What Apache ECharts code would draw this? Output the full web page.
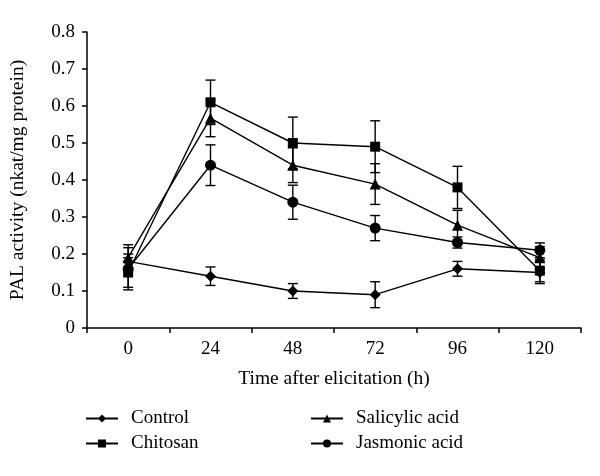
<!DOCTYPE html>
<html>
<head>
<meta charset="utf-8">
<script src="https://cdn.jsdelivr.net/npm/echarts@6/dist/echarts.min.js"></script>
<style>html,body{margin:0;padding:0;background:#fff;}#c{width:600px;height:476px;}</style>
</head>
<body>
<div id="c"></div>
<script>
const categories = ['0', '24', '48', '72', '96', '120'];
const yTicks = [0, 0.1, 0.2, 0.3, 0.4, 0.5, 0.6, 0.7, 0.8];
const controlValues = [0.18, 0.14, 0.10, 0.09, 0.16, 0.15];
const controlErrors = [0.02, 0.025, 0.02, 0.035, 0.02, 0.03];
const chitosanValues = [0.15, 0.61, 0.50, 0.49, 0.38, 0.155];
const chitosanErrors = [0.04, 0.06, 0.07, 0.07, 0.057, 0.03];
const salicylicValues = [0.19, 0.567, 0.44, 0.389, 0.278, 0.19];
const salicylicErrors = [0.035, 0.05, 0.047, 0.055, 0.04, 0.03];
const jasmonicValues = [0.16, 0.44, 0.34, 0.27, 0.231, 0.21];
const jasmonicErrors = [0.057, 0.055, 0.046, 0.034, 0.015, 0.02];

const FONT = 'Liberation Serif';
const chart = echarts.init(document.getElementById('c'), null, {renderer: 'canvas'});

function lineSeries(name, values, symbol, size) {
  return {
    name: name, type: 'line', data: values,
    symbol: symbol, symbolSize: size, showSymbol: true,
    lineStyle: {color: '#000', width: 1.4},
    itemStyle: {color: '#000'},
    z: 3, animation: false
  };
}
function errSeries(name, values, errors) {
  return {
    name: name + ' err', type: 'custom',
    data: values.map((v, i) => [i, v, errors[i]]),
    renderItem: function (params, api) {
      const x = api.value(0), y = api.value(1), e = api.value(2);
      const top = api.coord([x, y + e]);
      const bot = api.coord([x, y - e]);
      const w = 5;
      const st = {stroke: '#000', lineWidth: 1.4};
      return {type: 'group', children: [
        {type: 'line', shape: {x1: top[0], y1: top[1], x2: bot[0], y2: bot[1]}, style: st},
        {type: 'line', shape: {x1: top[0] - w, y1: top[1], x2: top[0] + w, y2: top[1]}, style: st},
        {type: 'line', shape: {x1: bot[0] - w, y1: bot[1], x2: bot[0] + w, y2: bot[1]}, style: st}
      ]};
    },
    z: 2, animation: false, silent: true
  };
}

const legendText = {fontFamily: FONT, fontSize: 19, color: '#000', padding: [0, 0, 0, 8]};
const option = {
  backgroundColor: '#fff',
  animation: false,
  grid: {left: 86, right: 19, top: 32, bottom: 148, containLabel: false},
  legend: [
    {data: ['Control', 'Chitosan'], orient: 'vertical', left: 85, top: 409, padding: 0, itemWidth: 32, itemHeight: 10, itemGap: 6, textStyle: legendText, selectedMode: false},
    {data: ['Salicylic acid', 'Jasmonic acid'], orient: 'vertical', left: 310, top: 409, padding: 0, itemWidth: 32, itemHeight: 10, itemGap: 6, textStyle: legendText, selectedMode: false}
  ],
  xAxis: {
    type: 'category', data: categories, boundaryGap: true,
    name: 'Time after elicitation (h)', nameLocation: 'middle', nameGap: 41,
    nameTextStyle: {fontFamily: FONT, fontSize: 19.5, color: '#000'},
    axisLine: {lineStyle: {color: '#000', width: 1.5}},
    axisTick: {show: true, inside: false, length: 5, alignWithLabel: false, lineStyle: {color: '#000', width: 1.5}},
    axisLabel: {fontFamily: FONT, fontSize: 19, color: '#000', margin: 12},
    splitLine: {show: false}
  },
  yAxis: {
    type: 'value', min: yTicks[0], max: yTicks[yTicks.length - 1], interval: 0.1,
    name: 'PAL activity (nkat/mg protein)', nameLocation: 'middle', nameGap: 59,
    nameTextStyle: {fontFamily: FONT, fontSize: 19.5, color: '#000'},
    axisLine: {show: true, lineStyle: {color: '#000', width: 1.5}},
    axisTick: {show: true, inside: false, length: 5, lineStyle: {color: '#000', width: 1.5}},
    axisLabel: {fontFamily: FONT, fontSize: 19, color: '#000', margin: 12,
      formatter: v => (Math.round(v * 10) / 10).toString()},
    splitLine: {show: false}
  },
  series: [
    errSeries('Control', controlValues, controlErrors),
    errSeries('Chitosan', chitosanValues, chitosanErrors),
    errSeries('Salicylic acid', salicylicValues, salicylicErrors),
    errSeries('Jasmonic acid', jasmonicValues, jasmonicErrors),
    lineSeries('Control', controlValues, 'diamond', 11),
    lineSeries('Chitosan', chitosanValues, 'rect', 10),
    lineSeries('Salicylic acid', salicylicValues, 'triangle', 11),
    lineSeries('Jasmonic acid', jasmonicValues, 'circle', 11)
  ]
};
chart.setOption(option);
</script>
</body>
</html>
